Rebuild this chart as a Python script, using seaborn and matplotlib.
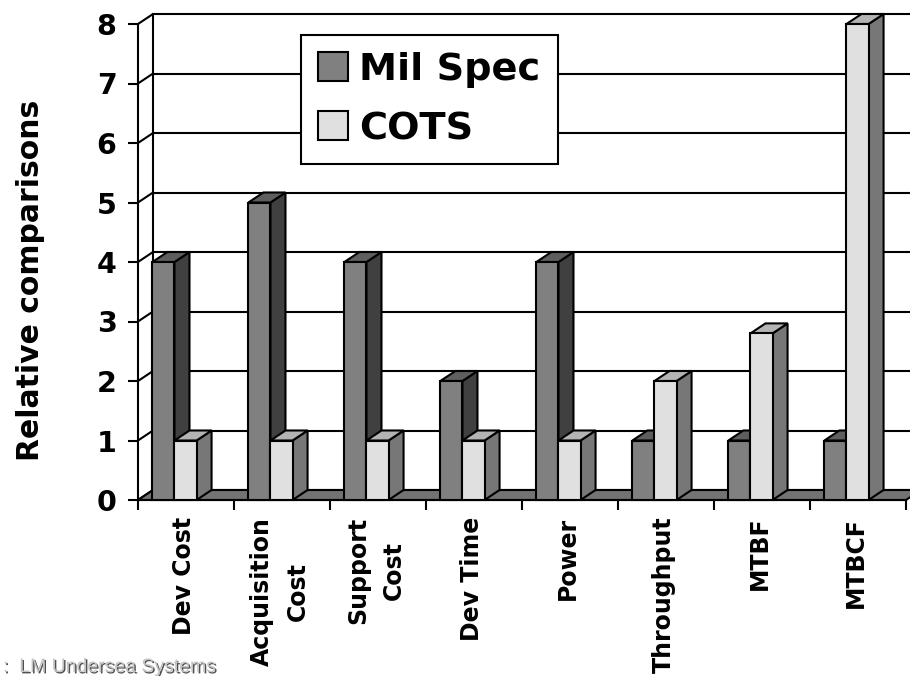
import numpy as np
import pandas as pd
import matplotlib
matplotlib.use("Agg")
import matplotlib.pyplot as plt
import matplotlib.patheffects as pe
from matplotlib.patches import Polygon, Rectangle
import seaborn as sns

# ---- data -------------------------------------------------------------
categories = ["Dev Cost", "Acquisition\nCost", "Support\nCost", "Dev Time",
              "Power", "Throughput", "MTBF", "MTBCF"]
series = ["Mil Spec", "COTS"]
mil_spec = [4, 5, 4, 2, 4, 1, 1, 1]
cots = [1, 1, 1, 1, 1, 2, 2.8, 8]
y_ticks = [0, 1, 2, 3, 4, 5, 6, 7, 8]
source_note = ":  LM Undersea Systems"

# ---- styling ----------------------------------------------------------
front_colors = {"Mil Spec": "#808080", "COTS": "#e0e0e0"}
side_colors = {"Mil Spec": "#404040", "COTS": "#777777"}
top_colors = {"Mil Spec": "#5e5e5e", "COTS": "#b4b4b4"}
floor_color = "#737373"
LW = 1.5

df = pd.DataFrame({
    "category": categories * 2,
    "series": [series[0]] * len(categories) + [series[1]] * len(categories),
    "value": mil_spec + cots,
})

sns.set_theme(style="white")
plt.rcParams["font.family"] = ["DejaVu Sans"]
plt.rcParams["font.weight"] = "bold"
plt.rcParams["text.color"] = "black"
plt.rcParams["axes.labelcolor"] = "black"
plt.rcParams["axes.labelweight"] = "bold"

W, H = 910, 676
fig = plt.figure(figsize=(W / 100, H / 100), dpi=100)
ax = fig.add_axes([138 / W, 176 / H, 768 / W, 476 / H])

sns.barplot(data=df, x="category", y="value", hue="series",
            order=categories, hue_order=series, palette=front_colors,
            width=0.46, gap=0, saturation=1, errorbar=None,
            edgecolor="black", linewidth=LW, ax=ax)

x0, x1 = -0.38, 7.62
ax.set_xlim(x0, x1)
ax.set_ylim(0, 8)

# depth of the pseudo-3D box, converted from pixels to data units
pos = ax.get_position()
px_per_x = pos.width * W / (x1 - x0)
px_per_y = pos.height * H / 8
ddx = 15 / px_per_x
ddy = 10 / px_per_y

# back wall with gridlines
ax.add_patch(Rectangle((x0 + ddx, ddy), x1 - x0, 8, facecolor="white",
                       edgecolor="black", lw=LW, zorder=0.5, clip_on=False))
for t in y_ticks[1:-1]:
    ax.plot([x0 + ddx, x1 + ddx], [t + ddy, t + ddy], color="black",
            lw=LW, zorder=0.6, clip_on=False, solid_capstyle="butt")
# side wall diagonals
for t in y_ticks:
    ax.plot([x0, x0 + ddx], [t, t + ddy], color="black", lw=LW,
            zorder=0.7, clip_on=False)
# floor
ax.add_patch(Polygon([(x0, 0), (x1, 0), (x1 + ddx, ddy), (x0 + ddx, ddy)],
                     closed=True, facecolor=floor_color, edgecolor="black",
                     lw=LW, zorder=1, clip_on=False))

# extrude each bar: right side face and top face
for name, container in zip(series, ax.containers):
    for bar in container:
        bx, bw, bh = bar.get_x(), bar.get_width(), bar.get_height()
        z = 3 + (bx - x0) * 0.1
        bar.set_zorder(z)
        bar.set_clip_on(False)
        bar.set_joinstyle("miter")
        side = [(bx + bw, 0), (bx + bw + ddx, ddy),
                (bx + bw + ddx, bh + ddy), (bx + bw, bh)]
        top = [(bx, bh), (bx + bw, bh), (bx + bw + ddx, bh + ddy),
               (bx + ddx, bh + ddy)]
        ax.add_patch(Polygon(side, closed=True, facecolor=side_colors[name],
                             edgecolor="black", lw=LW, zorder=z - 0.01,
                             clip_on=False, joinstyle="miter"))
        ax.add_patch(Polygon(top, closed=True, facecolor=top_colors[name],
                             edgecolor="black", lw=LW, zorder=z - 0.01,
                             clip_on=False, joinstyle="miter"))

# axes frame
for s in ("top", "right"):
    ax.spines[s].set_visible(False)
for s in ("left", "bottom"):
    ax.spines[s].set_color("black")
    ax.spines[s].set_linewidth(LW)
    ax.spines[s].set_zorder(2.5)

# y axis
ax.set_yticks(y_ticks)
ax.set_yticklabels([str(t) for t in y_ticks])
ax.tick_params(axis="y", direction="out", length=7.5, width=LW,
               color="black", pad=8, labelsize=20.5, labelcolor="black", left=True)

# x axis: tick marks on category boundaries, labels between them
ax.set_xticks(np.arange(len(categories) + 1) + x0)
ax.set_xticklabels([""] * (len(categories) + 1))
ax.set_xticks(np.arange(len(categories)) + 0.1, labels=categories, minor=True)
ax.tick_params(axis="x", which="major", direction="out", length=7,
               width=LW, color="black", bottom=True)
ax.tick_params(axis="x", which="minor", length=0, pad=12, labelsize=17,
               labelcolor="black")
for lbl in ax.get_xticklabels(minor=True):
    lbl.set_rotation(90)
    lbl.set_ha("center")
    lbl.set_va("top")
    lbl.set_multialignment("center")
    lbl.set_linespacing(1.65)

ax.set_xlabel("")
ax.set_ylabel("Relative comparisons", fontsize=21.5, fontweight="bold",
              va="center", color="black")
ax.yaxis.set_label_coords((31 - 138) / 768, (500 - 280) / 476)

leg = ax.legend(loc="upper left", bbox_to_anchor=((301 - 138) / 768, (500 - 35) / 476),
                borderaxespad=0, fontsize=27.5, frameon=True, fancybox=False,
                framealpha=1, edgecolor="black", handlelength=0.79,
                handleheight=0.79, handletextpad=0.29, borderpad=0.45,
                labelspacing=0.6)
leg.get_frame().set_linewidth(LW)
leg.set_zorder(10)
for t in leg.get_texts():
    t.set_color("black")
    t.set_fontweight("bold")

fig.text(3 / W, 4 / H, source_note, family="Liberation Sans", weight="normal",
         fontsize=14, color="#c4c4c4", va="baseline", ha="left",
         path_effects=[pe.withSimplePatchShadow(offset=(1, -1),
                                                shadow_rgbFace="#505050",
                                                alpha=1)])

fig.savefig("out.png", dpi=100)
